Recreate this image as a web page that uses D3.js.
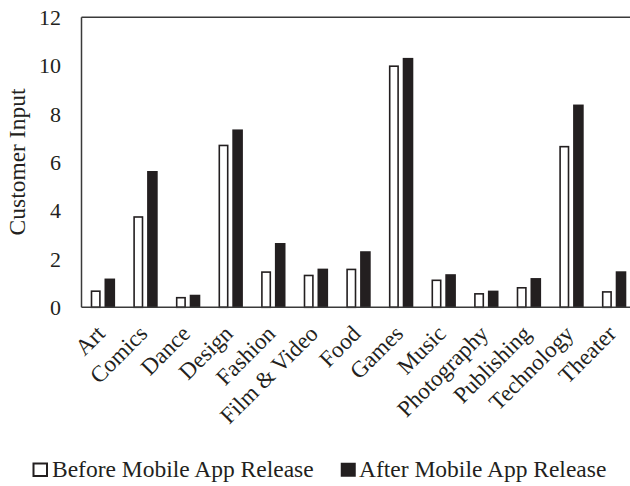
<!DOCTYPE html>
<html>
<head>
<meta charset="utf-8">
<script src="https://cdn.jsdelivr.net/npm/d3@7"></script>
<style>
  html, body { margin: 0; padding: 0; background: #fff; }
  svg { display: block; }
  text { font-family: "Liberation Serif", "Times New Roman", serif; fill: #231f20; }
</style>
</head>
<body>
<svg id="chart" width="630" height="486"></svg>
<script>
const categories = ["Art", "Comics", "Dance", "Design", "Fashion", "Film & Video", "Food", "Games", "Music", "Photography", "Publishing", "Technology", "Theater"];
const beforeValues = [0.70, 3.77, 0.43, 6.73, 1.49, 1.35, 1.60, 10.01, 1.15, 0.59, 0.84, 6.68, 0.67];
const afterValues  = [1.19, 5.64, 0.52, 7.36, 2.66, 1.60, 2.32, 10.32, 1.37, 0.69, 1.21, 8.39, 1.49];
const yTicks = [0, 2, 4, 6, 8, 10, 12];
const seriesNames = ["Before Mobile App Release", "After Mobile App Release"];

const ink = "#231f20";
const svg = d3.select("#chart");

const plotLeft = 81.5, plotTop = 17.3, plotBottom = 307.3, step = 42.6;
const plotRight = plotLeft + step * categories.length;
const x = d3.scaleBand().domain(categories).range([plotLeft, plotRight]).padding(0);
const y = d3.scaleLinear().domain([0, 12]).range([plotBottom, plotTop]);

// Bars
const bw = 10;
const g = svg.append("g");
g.selectAll("rect.before").data(categories).enter().append("rect")
  .attr("class", "before")
  .attr("x", (d) => x(d) + x.bandwidth() / 2 - 7.1 - bw / 2 + 0.8)
  .attr("y", (d, i) => y(beforeValues[i]) + 0.8)
  .attr("width", bw - 1.6)
  .attr("height", (d, i) => y(0) - y(beforeValues[i]) - 0.8)
  .attr("fill", "#fff").attr("stroke", ink).attr("stroke-width", 1.6);

g.selectAll("rect.after").data(categories).enter().append("rect")
  .attr("class", "after")
  .attr("x", (d) => x(d) + x.bandwidth() / 2 + 7 - 5.3)
  .attr("y", (d, i) => y(afterValues[i]))
  .attr("width", 10.6)
  .attr("height", (d, i) => y(0) - y(afterValues[i]))
  .attr("fill", ink);

// Frame lines (left, top, bottom)
svg.append("line").attr("x1", plotLeft).attr("x2", plotLeft).attr("y1", plotTop).attr("y2", plotBottom)
  .attr("stroke", "#3a3a3a").attr("stroke-width", 1.5);
svg.append("line").attr("x1", plotLeft).attr("x2", plotRight).attr("y1", plotTop).attr("y2", plotTop)
  .attr("stroke", "#3a3a3a").attr("stroke-width", 1.5);
svg.append("line").attr("x1", plotLeft).attr("x2", plotRight).attr("y1", plotBottom).attr("y2", plotBottom)
  .attr("stroke", "#3a3a3a").attr("stroke-width", 1.5);

// Y axis tick labels
const yAxis = d3.axisLeft(y).tickValues(yTicks).tickSize(0).tickPadding(0);
const ya = svg.append("g").attr("transform", "translate(61,0)").call(yAxis);
ya.select(".domain").remove();
ya.selectAll("text").attr("font-size", "22px").attr("fill", ink)
  .style("font-family", "'Liberation Serif', serif");

// X labels
svg.append("g").selectAll("text").data(categories).enter().append("text")
  .attr("transform", (d) => `translate(${x(d) + x.bandwidth() / 2 + 3.5},335) rotate(-45)`)
  .attr("text-anchor", "end")
  .attr("font-size", "23px")
  .text((d) => d);

// Y title
svg.append("text")
  .attr("transform", "translate(25,162) rotate(-90)")
  .attr("text-anchor", "middle")
  .attr("font-size", "23.5px")
  .text("Customer Input");

// Legend
const legendX = [33.5, 341.5];
const legendTextX = [52, 359];
const lg = svg.append("g");
seriesNames.forEach((name, i) => {
  lg.append("rect")
    .attr("x", legendX[i]).attr("y", 463.5)
    .attr("width", 13.5).attr("height", 12.5)
    .attr("fill", i === 0 ? "#fff" : ink)
    .attr("stroke", ink).attr("stroke-width", i === 0 ? 2 : 1.5);
  lg.append("text")
    .attr("x", legendTextX[i]).attr("y", 477)
    .attr("font-size", "23.5px")
    .text(name);
});
</script>
</body>
</html>
